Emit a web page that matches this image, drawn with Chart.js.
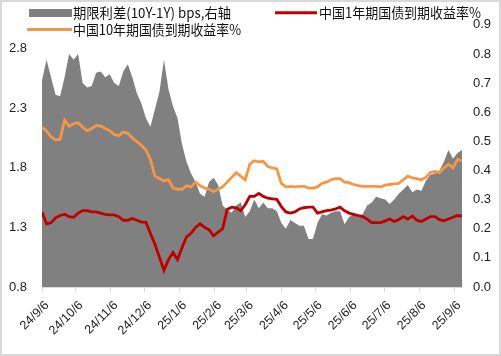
<!DOCTYPE html>
<html><head><meta charset="utf-8">
<script src="https://cdn.jsdelivr.net/npm/chart.js@4"></script>
<style>
html,body{margin:0;padding:0;background:#fff;}
#wrap{position:relative;width:501px;height:356px;box-sizing:border-box;border:2px solid #d9d9d9;background:#fff;}
canvas{display:block;}
</style></head><body>
<div id="wrap"><canvas id="c" width="497" height="352"></canvas></div>
<script>
const dates = ['2024-09-06','2024-09-10','2024-09-14','2024-09-18','2024-09-22','2024-09-26','2024-09-30','2024-10-04','2024-10-08','2024-10-12','2024-10-16','2024-10-20','2024-10-24','2024-10-28','2024-11-01','2024-11-05','2024-11-09','2024-11-13','2024-11-17','2024-11-21','2024-11-25','2024-11-29','2024-12-03','2024-12-07','2024-12-11','2024-12-15','2024-12-19','2024-12-23','2024-12-27','2024-12-31','2025-01-04','2025-01-08','2025-01-12','2025-01-16','2025-01-20','2025-01-24','2025-01-28','2025-02-01','2025-02-05','2025-02-09','2025-02-13','2025-02-17','2025-02-21','2025-02-25','2025-03-01','2025-03-05','2025-03-09','2025-03-13','2025-03-17','2025-03-21','2025-03-25','2025-03-29','2025-04-02','2025-04-06','2025-04-10','2025-04-14','2025-04-18','2025-04-22','2025-04-26','2025-04-30','2025-05-04','2025-05-08','2025-05-12','2025-05-16','2025-05-20','2025-05-24','2025-05-28','2025-06-01','2025-06-05','2025-06-09','2025-06-13','2025-06-17','2025-06-21','2025-06-25','2025-06-29','2025-07-03','2025-07-07','2025-07-11','2025-07-15','2025-07-19','2025-07-23','2025-07-27','2025-07-31','2025-08-04','2025-08-08','2025-08-12','2025-08-16','2025-08-20','2025-08-24','2025-08-28','2025-09-01','2025-09-05','2025-09-09','2025-09-13'];

const yield10Y = [2.14,2.11,2.06,2.035,2.04,2.20,2.15,2.17,2.18,2.14,
  2.11,2.13,2.155,2.15,2.13,2.11,2.08,2.07,2.10,2.09,
  2.05,2.02,1.99,1.95,1.87,1.73,1.71,1.69,1.70,1.63,
  1.62,1.62,1.65,1.64,1.68,1.65,1.63,1.62,1.60,1.62,
  1.64,1.68,1.72,1.76,1.73,1.70,1.83,1.86,1.85,1.855,
  1.81,1.80,1.79,1.67,1.64,1.645,1.64,1.645,1.645,1.63,
  1.63,1.64,1.67,1.68,1.70,1.71,1.71,1.68,1.675,1.66,
  1.65,1.645,1.645,1.645,1.645,1.64,1.655,1.66,1.665,1.67,
  1.70,1.73,1.715,1.71,1.70,1.72,1.76,1.77,1.76,1.80,
  1.83,1.80,1.87,1.86];

const yield1Y = [1.43,1.33,1.34,1.38,1.40,1.41,1.39,1.385,1.42,1.44,
  1.44,1.43,1.43,1.42,1.41,1.405,1.405,1.39,1.36,1.36,
  1.375,1.36,1.345,1.345,1.25,1.16,1.05,0.94,1.03,1.09,
  1.03,1.13,1.22,1.25,1.30,1.33,1.30,1.28,1.23,1.26,
  1.29,1.45,1.47,1.465,1.44,1.49,1.56,1.56,1.585,1.56,
  1.545,1.54,1.535,1.475,1.43,1.42,1.43,1.455,1.465,1.47,
  1.47,1.42,1.43,1.44,1.445,1.455,1.47,1.44,1.42,1.41,
  1.40,1.39,1.37,1.34,1.34,1.34,1.355,1.37,1.35,1.365,
  1.39,1.37,1.395,1.36,1.35,1.37,1.39,1.39,1.365,1.355,
  1.37,1.385,1.40,1.395];

const spread = [0.71,0.78,0.72,0.66,0.655,0.72,0.80,0.78,0.80,0.70,
  0.685,0.69,0.735,0.74,0.72,0.73,0.70,0.69,0.74,0.765,
  0.72,0.665,0.63,0.58,0.55,0.61,0.67,0.78,0.68,0.62,
  0.58,0.49,0.43,0.39,0.36,0.32,0.31,0.36,0.375,0.35,
  0.28,0.265,0.255,0.28,0.29,0.24,0.26,0.30,0.27,0.29,
  0.27,0.27,0.26,0.22,0.20,0.23,0.22,0.21,0.21,0.165,
  0.165,0.22,0.25,0.245,0.255,0.26,0.26,0.215,0.24,0.25,
  0.245,0.25,0.28,0.29,0.31,0.305,0.30,0.285,0.30,0.32,
  0.335,0.35,0.325,0.335,0.33,0.365,0.385,0.39,0.40,0.43,
  0.47,0.44,0.46,0.47];

const tickDates = ['2024-09-06','2024-10-06','2024-11-06','2024-12-06','2025-01-06','2025-02-06','2025-03-06','2025-04-06','2025-05-06','2025-06-06','2025-07-06','2025-08-06','2025-09-06'];
const tickLabels = ['24/9/6','24/10/6','24/11/6','24/12/6','25/1/6','25/2/6','25/3/6','25/4/6','25/5/6','25/6/6','25/7/6','25/8/6','25/9/6'];
const leftTicks = [0.8,1.3,1.8,2.3,2.8];
const seriesNames = ['期限利差(10Y-1Y) bps,右轴','中国10年期国债到期收益率%','中国1年期国债到期收益率%'];

const GRAY='#808080', ORANGE='#F79646', RED='#C00000';
const t0 = Date.parse(dates[0]);
const dayOf = d => (Date.parse(d) - t0) / 86400000;
const xs = dates.map(dayOf);
const tickDays = tickDates.map(dayOf);
const pts = arr => arr.map((v,i)=>({x:xs[i], y:v}));

const legendPlugin = {
  id:'customLegend',
  afterDraw(chart){
    const ctx = chart.ctx;
    ctx.save();
    ctx.font = '14px "Noto Sans CJK SC", "Noto Sans", sans-serif';
    ctx.textBaseline = 'middle';
    ctx.textAlign = 'left';
    ctx.fillStyle = GRAY;
    ctx.fillRect(27, 7, 43, 8);
    ctx.fillStyle = '#111';
    ctx.fillText(seriesNames[0], 71, 11, 158);
    ctx.strokeStyle = ORANGE; ctx.lineWidth = 3;
    ctx.beginPath(); ctx.moveTo(25, 27.5); ctx.lineTo(70, 27.5); ctx.stroke();
    ctx.fillStyle = '#111';
    ctx.fillText(seriesNames[1], 71, 28, 168);
    ctx.strokeStyle = RED; ctx.lineWidth = 3;
    ctx.beginPath(); ctx.moveTo(273, 10.7); ctx.lineTo(315, 10.7); ctx.stroke();
    ctx.fillStyle = '#111';
    ctx.fillText(seriesNames[2], 317, 11, 162);
    ctx.restore();
  }
};

const tickFont = {family:'"Liberation Sans", Arial, sans-serif', size:13};

new Chart(document.getElementById('c'), {
  type:'line',
  data:{
    datasets:[
      {label:seriesNames[2], data:pts(yield1Y), yAxisID:'yL', borderColor:RED, borderWidth:2.8, pointRadius:0, tension:0, fill:false, order:1},
      {label:seriesNames[1], data:pts(yield10Y), yAxisID:'yL', borderColor:ORANGE, borderWidth:2.8, pointRadius:0, tension:0, fill:false, order:2},
      {label:seriesNames[0], data:pts(spread), yAxisID:'yR', borderColor:GRAY, backgroundColor:GRAY, borderWidth:0, pointRadius:0, tension:0, fill:'origin', order:3}
    ]
  },
  options:{
    responsive:false, animation:false, devicePixelRatio:1,
    layout:{padding:{top:10, left:0, right:0, bottom:0}},
    plugins:{legend:{display:false}, tooltip:{enabled:false}},
    scales:{
      x:{type:'linear', min:0, max:xs[xs.length-1],
        afterBuildTicks(s){ s.ticks = tickDays.map(v=>({value:v})); },
        afterFit(s){ s.height = 67; },
        grid:{display:true, drawOnChartArea:false, drawTicks:true, tickLength:5, color:'#d9d9d9'},
        border:{display:true, color:'#d9d9d9', width:1},
        ticks:{autoSkip:false, minRotation:45, maxRotation:45, padding:6, labelOffset:5, color:'#222', font:{family:'"Liberation Sans", Arial, sans-serif', size:12.5},
          callback(v){ const i = tickDays.indexOf(v); return i>=0 ? tickLabels[i] : ''; }}
      },
      yL:{type:'linear', position:'left', min:0.8, max:3.0,
        afterBuildTicks(s){ s.ticks = leftTicks.map(v=>({value:v})); },
        afterFit(s){ s.width = 40; },
        grid:{display:false, drawTicks:false}, border:{display:false},
        ticks:{padding:15, color:'#222', font:tickFont, callback:v=>v.toFixed(1)}
      },
      yR:{type:'linear', position:'right', min:0, max:0.9,
        afterFit(s){ s.width = 37; },
        grid:{display:false, drawTicks:false}, border:{display:false},
        ticks:{stepSize:0.1, padding:11, color:'#222', font:tickFont, callback:v=>v.toFixed(1)}
      }
    }
  },
  plugins:[legendPlugin]
});
</script>
</body></html>
